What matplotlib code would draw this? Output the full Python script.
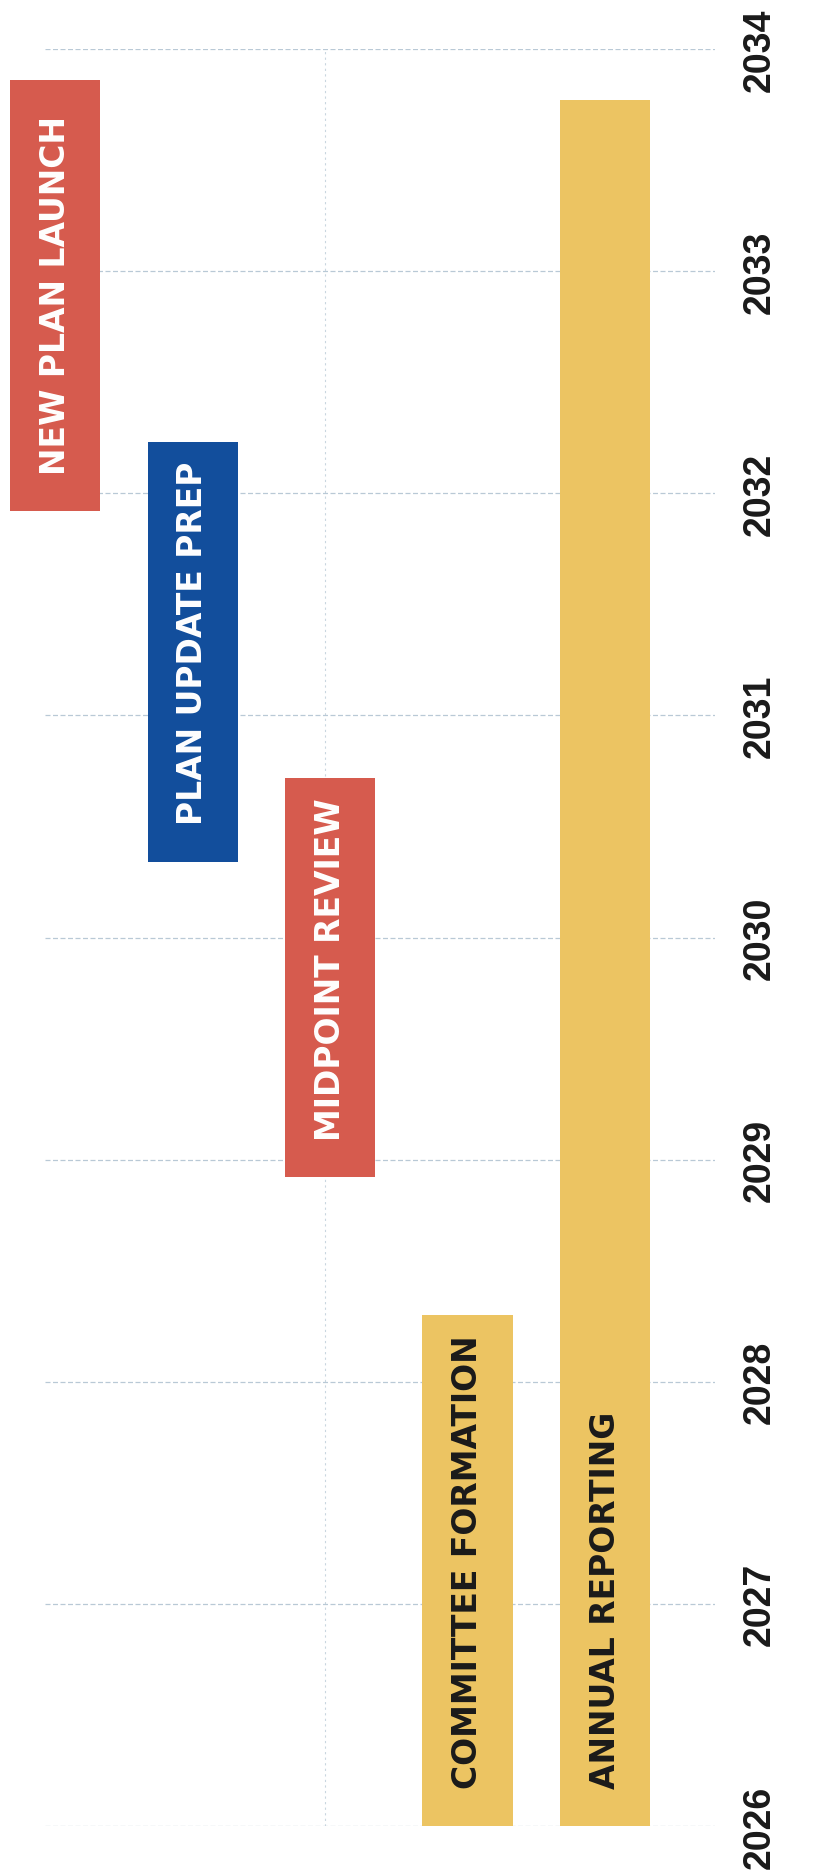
import matplotlib
matplotlib.use("Agg")
import matplotlib.pyplot as plt

# rows of the timeline, left to right in the rotated layout
tasks = ["NEW PLAN LAUNCH", "PLAN UPDATE PREP", "MIDPOINT REVIEW",
         "COMMITTEE FORMATION", "ANNUAL REPORTING"]
starts = [2031.92, 2030.34, 2028.92, 2026.0, 2026.0]
ends = [2033.86, 2032.23, 2030.72, 2028.30, 2033.77]
colors = ["#D65B4E", "#124E9C", "#D65B4E", "#ECC462", "#ECC462"]
text_colors = ["white", "white", "white", "#1A1A1A", "#1A1A1A"]
years = list(range(2026, 2035))

W, H = 836, 1874
fig = plt.figure(figsize=(W / 100, H / 100), dpi=100)
ax = fig.add_axes([45 / W, 47 / H, (715 - 45) / W, (1827 - 50) / H])

xs = list(range(len(tasks)))
for i, task in enumerate(tasks):
    ax.bar(xs[i], ends[i] - starts[i], bottom=starts[i], width=0.655,
           color=colors[i], zorder=2, clip_on=False)
    ax.annotate(task, (xs[i], starts[i]), xytext=(0, 27), textcoords="offset points",
                rotation=90, ha="center", va="bottom", color=text_colors[i],
                fontsize=23.8, fontweight="bold", family="DejaVu Sans", zorder=3)

ax.set_xlim(-0.073, 4.8)
ax.set_ylim(years[0], years[-1])

# year grid + labels on the right side
ax.set_yticks(years)
ax.set_yticklabels([str(y) for y in years])
ax.yaxis.tick_right()
ax.tick_params(axis="y", length=0, pad=19, labelrotation=90, labelsize=27)
for lab in ax.get_yticklabels():
    lab.set_fontweight("bold")
    lab.set_family("Liberation Sans")
    lab.set_color("#1A1A1A")
    lab.set_va("center")
ax.grid(True, axis="y", color="#B9C9D6", linestyle=(0, (4, 2)), linewidth=0.9, zorder=1)

# single faint vertical guide through the middle row
ax.axvline(xs[2] - 0.04, color="#C9D6DF", linestyle=(0, (2, 3)), linewidth=0.8, zorder=1)

ax.set_xticks([])
for s in ax.spines.values():
    s.set_visible(False)

fig.savefig("out.png", dpi=100)
